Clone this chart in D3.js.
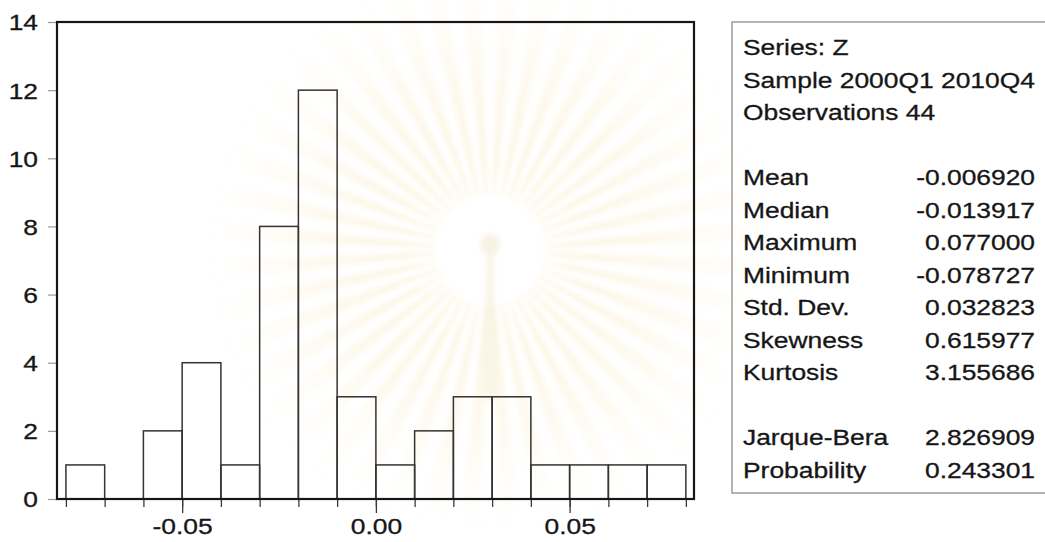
<!DOCTYPE html>
<html>
<head>
<meta charset="utf-8">
<script src="https://cdn.jsdelivr.net/npm/d3@7"></script>
<style>
  html, body { margin: 0; padding: 0; background: #fff; }
  svg { display: block; }
  text { font-family: "Liberation Sans", Arial, sans-serif; fill: #161616; stroke: #161616; stroke-width: 0.3px; }
</style>
</head>
<body>
<svg id="chart" width="1045" height="542"></svg>
<script>
// Histogram of series Z: bins of width 0.01, lower edges below
const binStarts = [-0.08, -0.07, -0.06, -0.05, -0.04, -0.03, -0.02, -0.01,
                   0.00, 0.01, 0.02, 0.03, 0.04, 0.05, 0.06, 0.07];
const binWidth = 0.01;
const counts = [1, 0, 2, 4, 1, 8, 12, 3, 1, 2, 3, 3, 1, 1, 1, 1];

const yTicks = [0, 2, 4, 6, 8, 10, 12, 14];
const xLabelTicks = [-0.05, 0.00, 0.05];

// Descriptive statistics panel
const headerLines = ["Series: Z", "Sample 2000Q1 2010Q4", "Observations 44"];
const statNames = ["Mean", "Median", "Maximum", "Minimum", "Std. Dev.", "Skewness", "Kurtosis"];
const statValues = ["-0.006920", "-0.013917", "0.077000", "-0.078727", "0.032823", "0.615977", "3.155686"];
const testNames = ["Jarque-Bera", "Probability"];
const testValues = ["2.826909", "0.243301"];

const FONT = 22, SX = 1.2;   // text is drawn slightly widened

const svg = d3.select("#chart");

// plot area
const plot = { left: 57, right: 694, top: 22, bottom: 499 };
const x = d3.scaleLinear().domain([-0.0823, 0.0821]).range([plot.left, plot.right]);
const y = d3.scaleLinear().domain([0, 14]).range([plot.bottom, plot.top]);

// tick labels use a plain hyphen for the sign
const fmtX = d => d3.format(".2f")(d).replace("\u2212", "-");

// faint sunburst emblem in the background
const defs = svg.append("defs");
const rg = defs.append("radialGradient").attr("id", "fade")
  .attr("cx", 490).attr("cy", 250).attr("r", 280).attr("gradientUnits", "userSpaceOnUse");
rg.append("stop").attr("offset", "0.2").attr("stop-color", "#f6e7b8").attr("stop-opacity", 0.45);
rg.append("stop").attr("offset", "1").attr("stop-color", "#f6e7b8").attr("stop-opacity", 0);
defs.append("filter").attr("id", "soft").append("feGaussianBlur").attr("stdDeviation", 2.5);

const emblem = svg.append("g").attr("filter", "url(#soft)");
const nRays = 44;
const ecx = 490, ecy = 250;
const rays = d3.range(nRays).map(i => (i + 0.5) * 2 * Math.PI / nRays);
emblem.selectAll("path.ray").data(rays).join("path")
  .attr("class", "ray")
  .attr("d", a => {
    const r0 = 55, r1 = 290, w = Math.PI / nRays * 0.55;
    const p = (ang, r) => [ecx + r * Math.cos(ang), ecy + r * Math.sin(ang)];
    const [a1, a2, a3, a4] = [p(a - w * 0.5, r0), p(a + w * 0.5, r0), p(a + w, r1), p(a - w, r1)];
    return `M${a1}L${a2}L${a3}L${a4}Z`;
  })
  .attr("fill", "url(#fade)");
emblem.append("ellipse").attr("cx", ecx).attr("cy", ecy - 5).attr("rx", 10).attr("ry", 11)
  .attr("fill", "#efe3c2").attr("opacity", 0.45);
emblem.append("path")
  .attr("d", `M${ecx - 4},${ecy + 6}L${ecx + 4},${ecy + 6}L${ecx + 6},${ecy + 150}L${ecx - 6},${ecy + 150}Z`)
  .attr("fill", "#efe3c2").attr("opacity", 0.35);

// y axis ticks and labels
const yAxis = d3.axisLeft(y).tickValues(yTicks).tickSize(9).tickPadding(0).tickFormat(d3.format("d"));
const gy = svg.append("g").attr("transform", `translate(${plot.left},0)`).call(yAxis);
gy.select(".domain").remove();
gy.selectAll(".tick line").attr("stroke", "#9a9a9a").attr("stroke-width", 1.2);
gy.selectAll(".tick text")
  .attr("font-size", FONT).attr("x", -19 / SX).attr("dy", "0.36em")
  .attr("transform", `scale(${SX},1)`).attr("fill", "#161616");

// x axis: short ticks at every bin edge, long ticks at labelled values
const edges = binStarts.concat([binStarts[binStarts.length - 1] + binWidth]);
const gxMinor = svg.append("g").attr("transform", `translate(0,${plot.bottom})`)
  .call(d3.axisBottom(x).tickValues(edges).tickSize(8).tickFormat(""));
gxMinor.select(".domain").remove();
gxMinor.selectAll(".tick line").attr("stroke", "#3a3a3a").attr("stroke-width", 1.3);

const gxMajor = svg.append("g").attr("transform", `translate(0,${plot.bottom})`)
  .call(d3.axisBottom(x).tickValues(xLabelTicks).tickSize(14).tickPadding(5).tickFormat(fmtX));
gxMajor.select(".domain").remove();
gxMajor.selectAll(".tick line").attr("stroke", "#3a3a3a").attr("stroke-width", 1.3);
gxMajor.selectAll(".tick text")
  .attr("font-size", FONT).attr("transform", `scale(${SX},1)`).attr("fill", "#161616");

// histogram bars (outline only)
svg.append("g").selectAll("rect").data(counts.map((c, i) => ({ x0: binStarts[i], c })))
  .join("rect")
  .attr("x", d => x(d.x0))
  .attr("y", d => y(d.c))
  .attr("width", d => x(d.x0 + binWidth) - x(d.x0))
  .attr("height", d => y(0) - y(d.c))
  .attr("fill", "none")
  .attr("stroke", "#333")
  .attr("stroke-width", 1.5);

// plot frame
svg.append("rect")
  .attr("x", plot.left).attr("y", plot.top)
  .attr("width", plot.right - plot.left).attr("height", plot.bottom - plot.top)
  .attr("fill", "none").attr("stroke", "#161616").attr("stroke-width", 2.2);

// statistics panel
const boxX = 732, boxY = 22, boxBottom = 493;
svg.append("rect")
  .attr("x", boxX).attr("y", boxY).attr("width", 340).attr("height", boxBottom - boxY)
  .attr("fill", "none").attr("stroke", "#8c8c8c").attr("stroke-width", 1.3);

const lineH = 32.5, firstBase = 55, labelX = 743, valueX = 1035;
const rows = [];
headerLines.forEach((t, i) => rows.push({ row: i, label: t, value: null }));
statNames.forEach((t, i) => rows.push({ row: 4 + i, label: t, value: statValues[i] }));
testNames.forEach((t, i) => rows.push({ row: 12 + i, label: t, value: testValues[i] }));

const panel = svg.append("g").attr("font-size", FONT);
panel.selectAll("text.lbl").data(rows).join("text")
  .attr("class", "lbl")
  .attr("transform", d => `translate(${labelX},${firstBase + d.row * lineH}) scale(${SX},1)`)
  .text(d => d.label);
panel.selectAll("text.val").data(rows.filter(d => d.value !== null)).join("text")
  .attr("class", "val")
  .attr("text-anchor", "end")
  .attr("transform", d => `translate(${valueX},${firstBase + d.row * lineH}) scale(${SX},1)`)
  .text(d => d.value);
</script>
</body>
</html>
